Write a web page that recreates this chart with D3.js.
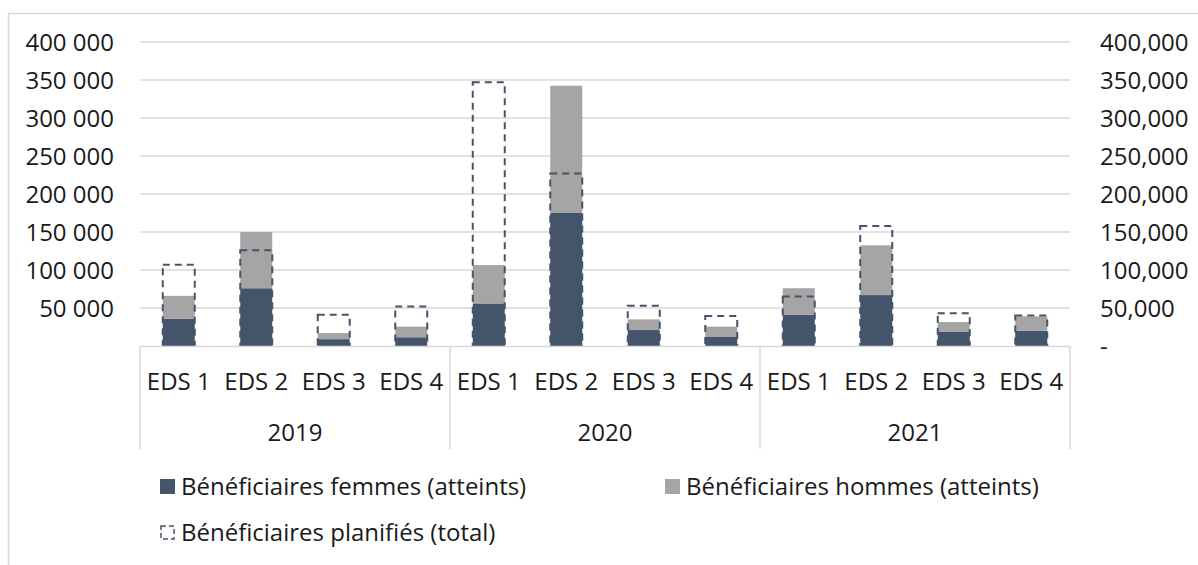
<!DOCTYPE html>
<html><head><meta charset="utf-8">
<script src="https://cdn.jsdelivr.net/npm/d3@7"></script>
<style>
html,body{margin:0;padding:0;background:#fff;}
svg{display:block;font-family:"Open Sans",sans-serif;}
</style></head>
<body>
<svg id="c" width="1198" height="565"></svg>
<script>
const years = ["2019","2020","2021"];
const sites = ["EDS 1","EDS 2","EDS 3","EDS 4"];
// per year, per site (in order of sites)
const femmes = [
  [36000, 76000, 9000, 11500],
  [56000, 175000, 21000, 12500],
  [41000, 67000, 19000, 20000]
];
const hommes = [
  [30000, 74000, 8000, 14000],
  [50500, 167500, 14000, 13000],
  [35000, 65500, 12500, 19000]
];
const planifies = [
  [107000, 126000, 41000, 52000],
  [347000, 227000, 53000, 39500],
  [65000, 158000, 43000, 40000]
];
const yTicks = [50000,100000,150000,200000,250000,300000,350000,400000];

const cFem = "#44546A", cHom = "#A5A5A5", cGrid = "#D9D9D9", cText = "#1a1a1a";
const FS = 24;
const svg = d3.select("#c");
const L = 140, R = 1070, T = 42, B = 346;

// outer border
svg.append("path").attr("d","M8.5,565 V13.5 H1198").attr("fill","none").attr("stroke",cGrid).attr("stroke-width",1.5);

const y = d3.scaleLinear().domain([0,400000]).range([B,T]);
const xYear = d3.scaleBand().domain(years).range([L,R]).padding(0);
const xSite = d3.scaleBand().domain(sites).range([0,xYear.bandwidth()]).padding(0);
const barW = 32;

// gridlines
svg.append("g").selectAll("line").data(yTicks).join("line")
  .attr("x1",L).attr("x2",R).attr("y1",d=>y(d)).attr("y2",d=>y(d))
  .attr("stroke",cGrid).attr("stroke-width",1.5);

// left axis
const fmtL = d => d3.format(",")(d).replace(/,/g," ");
const axL = d3.axisLeft(y).tickValues(yTicks).tickFormat(fmtL).tickSize(0).tickPadding(0);
const gL = svg.append("g").attr("transform",`translate(114,0)`).call(axL);
gL.select(".domain").remove();
gL.selectAll("text").attr("font-size",FS).attr("fill",cText).attr("font-family","Open Sans").attr("dy","0.35em");

// right axis
const axR = d3.axisRight(y).tickValues([0].concat(yTicks)).tickFormat(d=> d===0 ? "-" : d3.format(",")(d)).tickSize(0).tickPadding(0);
const gR = svg.append("g").attr("transform",`translate(1100,0)`).call(axR);
gR.select(".domain").remove();
gR.selectAll("text").attr("font-size",FS).attr("fill",cText).attr("font-family","Open Sans").attr("dy","0.35em");

// flatten data
const rows = [];
years.forEach((yr,i)=>sites.forEach((s,j)=>rows.push({yr,s,f:femmes[i][j],h:hommes[i][j],p:planifies[i][j]})));
const cx = d => xYear(d.yr) + xSite(d.s) + xSite.bandwidth()/2;

const gBars = svg.append("g");
gBars.selectAll("rect.f").data(rows).join("rect").attr("class","f")
  .attr("x",d=>cx(d)-barW/2).attr("width",barW)
  .attr("y",d=>y(d.f)).attr("height",d=>y(0)-y(d.f)).attr("fill",cFem);
gBars.selectAll("rect.h").data(rows).join("rect").attr("class","h")
  .attr("x",d=>cx(d)-barW/2).attr("width",barW)
  .attr("y",d=>y(d.f+d.h)).attr("height",d=>y(d.f)-y(d.f+d.h)).attr("fill",cHom);
gBars.selectAll("rect.p").data(rows).join("rect").attr("class","p")
  .attr("x",d=>cx(d)-barW/2).attr("width",barW)
  .attr("y",d=>y(d.p)).attr("height",d=>y(0)-y(d.p))
  .attr("fill","none").attr("stroke",cFem).attr("stroke-width",2).attr("stroke-dasharray","7,5");

// category axis box
const AB = 449;
const gA = svg.append("g");
gA.append("line").attr("x1",L).attr("x2",R).attr("y1",B+0.5).attr("y2",B+0.5).attr("stroke",cGrid).attr("stroke-width",1.5);
const vx = [L].concat(years.map(yr=>xYear(yr)+xYear.bandwidth()));
gA.selectAll("line.v").data(vx).join("line").attr("class","v")
  .attr("x1",d=>d).attr("x2",d=>d).attr("y1",B).attr("y2",AB).attr("stroke",cGrid).attr("stroke-width",1.5);
gA.selectAll("text.s").data(rows).join("text").attr("class","s")
  .attr("x",d=>cx(d)).attr("y",382).attr("dy","0.35em").attr("text-anchor","middle")
  .attr("font-size",FS).attr("fill",cText).text(d=>d.s);
gA.selectAll("text.yr").data(years).join("text").attr("class","yr")
  .attr("x",d=>xYear(d)+xYear.bandwidth()/2).attr("y",433).attr("dy","0.35em").attr("text-anchor","middle")
  .attr("font-size",FS).attr("fill",cText).text(d=>d);

// legend
const leg = [
  {label:"Bénéficiaires femmes (atteints)", type:"fem", x:160, y:479},
  {label:"Bénéficiaires hommes (atteints)", type:"hom", x:665, y:479},
  {label:"Bénéficiaires planifiés (total)", type:"plan", x:160, y:525}
];
const gLeg = svg.append("g");
leg.forEach(l=>{
  if(l.type==="plan"){
    gLeg.append("rect").attr("x",l.x+1).attr("y",l.y+1).attr("width",13).attr("height",13)
      .attr("fill","none").attr("stroke",cFem).attr("stroke-width",1.5).attr("stroke-dasharray","5,3");
  } else {
    gLeg.append("rect").attr("x",l.x).attr("y",l.y).attr("width",15).attr("height",15).attr("fill",l.type==="fem"?cFem:cHom);
  }
  gLeg.append("text").attr("x",l.x+21).attr("y",l.y+7.5).attr("dy","0.35em")
    .attr("font-size",FS).attr("fill",cText).text(l.label);
});
</script>
</body></html>
